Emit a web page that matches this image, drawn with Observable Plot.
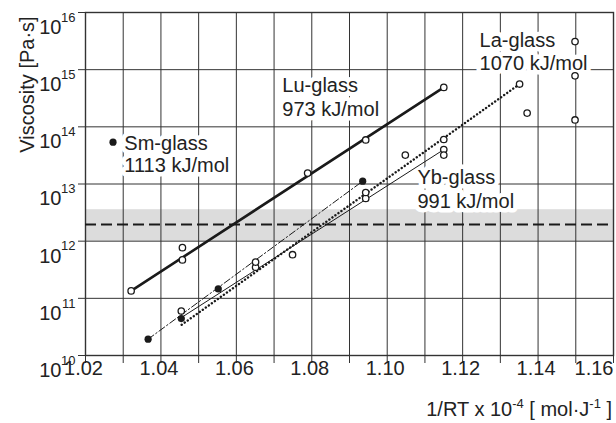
<!DOCTYPE html>
<html><head><meta charset="utf-8">
<script src="https://cdn.jsdelivr.net/npm/d3@7"></script>
<script src="https://cdn.jsdelivr.net/npm/@observablehq/plot@0.6"></script>
<style>
body{margin:0;background:#fff;font-family:"Liberation Sans",Arial,sans-serif;}
#wrap{width:616px;}
#xt{height:28px;text-align:right;font-size:20px;color:#222;padding-right:4px;line-height:28px;white-space:nowrap;}
#xt sup{font-size:13px;vertical-align:8px;line-height:0;}
</style></head><body><div id="wrap"></div>
<script>
// ---- data (x = 1/RT x 10^-4 mol/J, y = viscosity Pa·s) ----
const luX   = [1.0321, 1.0457, 1.0457, 1.0789, 1.0943, 1.115];
const luEta = [1.35e11, 7.7e11, 4.7e11, 1.55e13, 5.9e13, 4.9e14];
const ybX   = [1.0454, 1.0651, 1.0749, 1.0943, 1.1048, 1.115, 1.115];
const ybEta = [6.0e10, 3.5e11, 5.8e11, 5.6e12, 3.2e13, 4.0e13, 3.2e13];
const laX   = [1.0651, 1.0943, 1.115, 1.1351, 1.1371, 1.1498, 1.1498, 1.1498];
const laEta = [4.3e11, 7.1e12, 6.0e13, 5.6e14, 1.74e14, 3.1e15, 7.8e14, 1.32e14];
const smX   = [1.0366, 1.0454, 1.0552, 1.0935];
const smEta = [1.93e10, 4.43e10, 1.46e11, 1.12e13];
// fitted lines (end points)
const luFitX = [1.0321, 1.115],  luFitEta = [1.35e11, 4.9e14];
const smFitX = [1.0366, 1.0935], smFitEta = [1.93e10, 1.12e13];
const ybFitX = [1.0454, 1.115],  ybFitEta = [4.6e10, 4.0e13];
const laFitX = [1.0455, 1.1351], laFitEta = [3.45e10, 5.6e14];
// glass transition band and reference line
const bandLo = 1e12, bandHi = 3.55e12, refEta = 1.95e12;
// ticks
const xGrid = d3.range(0, 15).map(i => +(1.02 + i * 0.01).toFixed(2));
const xLabels = [1.02, 1.04, 1.06, 1.08, 1.10, 1.12, 1.14, 1.16];
const yExp = [10, 11, 12, 13, 14, 15, 16];
// labels
const labelText = ["Sm-glass\n1113 kJ/mol", "Lu-glass\n973 kJ/mol", "La-glass\n1070 kJ/mol", "Yb-glass\n991 kJ/mol"];
const smLegendX = 1.0273, smLegendEta = 5.4e13;

const pts = (X, Y) => X.map((x, i) => ({x, y: Y[i]}));
const ink = "#1a1a1a";
const font = "'Liberation Sans', Arial, sans-serif";
const halo = {textAnchor: "start", lineAnchor: "middle", fontSize: 20, fill: "#222", stroke: "white", strokeWidth: 9, paintOrder: "stroke", strokeLinejoin: "round"};

const chart = Plot.plot({
  width: 616, height: 395,
  marginLeft: 85, marginRight: 3, marginTop: 12, marginBottom: 40,
  x: {domain: [1.02, 1.16]},
  y: {type: "log", domain: [1e10, 1e16]},
  style: {fontFamily: font, color: "#222", background: "white", overflow: "visible"},
  marks: [
    Plot.rect([{lo: bandLo, hi: bandHi}], {y1: "lo", y2: "hi", fill: "#dcdcdc"}),
    Plot.ruleX(xGrid, {stroke: "#333", strokeWidth: 1}),
    Plot.ruleY(yExp.map(e => 10 ** e), {stroke: "#333", strokeWidth: 1}),
    Plot.frame({stroke: "#333", strokeWidth: 1.4}),
    Plot.axisX({ticks: xGrid, tickSize: 8, tickFormat: () => "", label: null, stroke: "#333"}),
    Plot.axisY({ticks: yExp.map(e => 10 ** e), tickSize: 7, tickFormat: () => "", label: null, stroke: "#333"}),
    Plot.ruleY([refEta], {stroke: ink, strokeWidth: 2, strokeDasharray: "11,5"}),
    // tick labels
    Plot.text(xLabels.slice(0, -1), {x: d => d, frameAnchor: "bottom", dy: 19, dx: -2, text: d => d.toFixed(2), fontSize: 20, fill: "#222"}),
    Plot.text(xLabels.slice(-1), {x: d => d, frameAnchor: "bottom", dy: 19, textAnchor: "end", text: d => d.toFixed(2), fontSize: 20, fill: "#222"}),
    Plot.text(yExp, {y: e => 10 ** e, frameAnchor: "left", textAnchor: "end", dx: -24, dy: 15, text: () => "10", fontSize: 20, fill: "#222"}),
    Plot.text(yExp, {y: e => 10 ** e, frameAnchor: "left", textAnchor: "end", dx: -10, dy: 5, text: e => String(e), fontSize: 13, fill: "#222"}),
    // y axis title
    Plot.text(["Viscosity [Pa·s]"], {frameAnchor: "top-left", dx: -66, dy: 72, rotate: -90, textAnchor: "middle", fontSize: 20, fill: "#222"}),
    // annotations
    Plot.text([labelText[0]], {x: 1.0303, y: 10 ** 13.53, lineHeight: 1.12, ...halo}),
    Plot.text([labelText[1]], {x: 1.0722, y: 10 ** 14.53, lineHeight: 1.2, ...halo}),
    Plot.text([labelText[2]], {x: 1.1245, y: 10 ** 15.33, lineHeight: 1.15, ...halo}),
    Plot.text([labelText[3]], {x: 1.108, y: 10 ** 12.92, lineHeight: 1.2, ...halo}),
    // fit lines
    Plot.line(pts(luFitX, luFitEta), {x: "x", y: "y", stroke: ink, strokeWidth: 2.6}),
    Plot.line(pts(smFitX, smFitEta), {x: "x", y: "y", stroke: ink, strokeWidth: 1, strokeDasharray: "7,2.5,1.5,2.5"}),
    Plot.line(pts(ybFitX, ybFitEta), {x: "x", y: "y", stroke: ink, strokeWidth: 1}),
    Plot.line(pts(laFitX, laFitEta), {x: "x", y: "y", stroke: ink, strokeWidth: 2.4, strokeDasharray: "0.1,3.6", strokeLinecap: "round"}),
    // points
    Plot.dot([...pts(luX, luEta), ...pts(ybX, ybEta), ...pts(laX, laEta)], {x: "x", y: "y", r: 3.2, fill: "white", stroke: ink, strokeWidth: 1.3}),
    Plot.dot(pts(smX, smEta), {x: "x", y: "y", r: 3.6, fill: ink}),
    Plot.dot([{x: smLegendX, y: smLegendEta}], {x: "x", y: "y", r: 3.6, fill: ink})
  ]
});
const wrap = document.getElementById("wrap");
wrap.appendChild(chart);
const cap = document.createElement("div");
cap.id = "xt";
cap.innerHTML = "1/RT x 10<sup>-4</sup> [ mol·J<sup>-1</sup> ]";
wrap.appendChild(cap);
</script>
</body></html>
